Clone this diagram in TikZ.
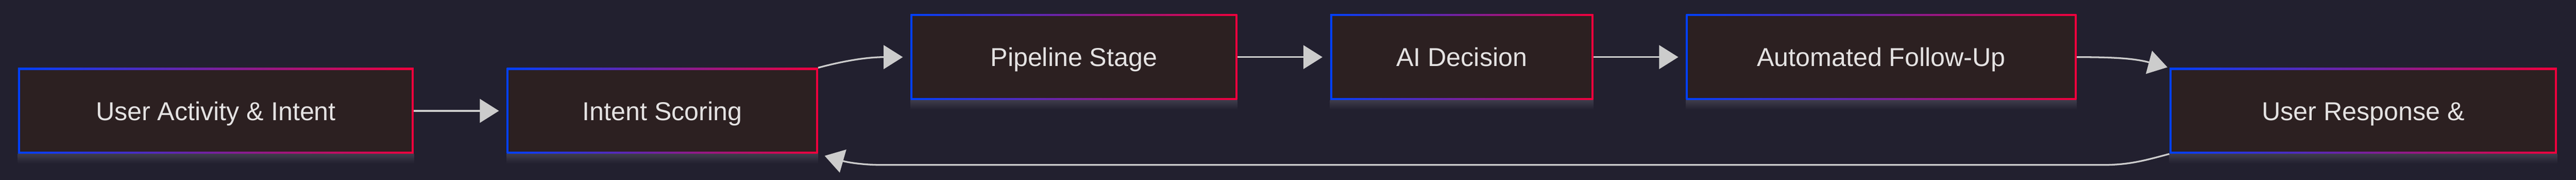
\documentclass[tikz,border=0pt]{standalone}
\usepackage{fontspec}
\setmainfont{Liberation Sans}
\usetikzlibrary{arrows.meta}

\definecolor{bgnavy}{HTML}{22202F}
\definecolor{boxfill}{HTML}{2C2021}
\definecolor{edgeblue}{HTML}{0040FF}
\definecolor{edgered}{HTML}{F0003C}
\definecolor{textgrey}{HTML}{E4E2E2}
\definecolor{arrowgrey}{HTML}{CCCCCC}
\definecolor{glowgrey}{HTML}{3E3C4B}

\begin{document}
\begin{tikzpicture}

        % Setup the style for the stages
        \tikzset{stage box/.style={rectangle,
                                   inner sep=0pt,
                                   minimum width=#1,
                                   minimum height=2.28cm,
                                   left color=edgeblue,
                                   right color=edgered,
                                   path picture={\fill[boxfill]
                                       ([shift={(0.05,0.05)}]path picture bounding box.south west) rectangle
                                       ([shift={(-0.05,-0.05)}]path picture bounding box.north east);},
                                   text=textgrey,
                                   font=\fontsize{19.6pt}{23pt}\selectfont,
                                   text height=0.5cm,
                                   text depth=0cm},
                 flow/.style={-{Triangle[length=0.51cm, width=0.63cm]},
                              line width=0.045cm,
                              color=arrowgrey,
                              shorten >=0.2cm}}

        % Background
        \fill[bgnavy] (0, 0) rectangle (68.63, 4.79);

        % Draw the stages
        \node[stage box=10.54cm] at (5.75, 1.84)   (act)    {User Activity \& Intent};
        \node[stage box=8.29cm]  at (17.645, 1.84) (score)  {Intent Scoring};
        \node[stage box=8.70cm]  at (28.61, 3.27)  (pipe)   {Pipeline Stage};
        \node[stage box=7.01cm]  at (38.945, 3.27) (decide) {AI Decision};
        \node[stage box=10.40cm] at (50.12, 3.27)  (follow) {Automated Follow-Up};
        \node[stage box=10.32cm] at (62.96, 1.84)  (resp)   {User Response \&};

        % Soft glow under the stages
        \foreach \n in {act, score, pipe, decide, follow, resp}
            \shade[top color=glowgrey, bottom color=bgnavy]
                (\n.south west) rectangle ([yshift=-0.25cm]\n.south east);

        % Turning points of the way back
        \coordinate (loopR) at (56.00, 0.40);
        \coordinate (loopL) at (23.53, 0.40);

        % Connect the stages with arrows
        \path[flow]
            (act)               edge                                       (score)
            (score.north east)  edge[out=15, in=180]                       (pipe.west)
            (pipe)              edge                                       (decide)
            (decide)            edge                                       (follow)
            (follow.east)       edge[out=0, in=165, shorten >=0.05cm]      (resp.north west)
            ;
        \draw[flow, shorten >=0.18cm]
            (resp.south west) to[out=195, in=0] (loopR) -- (loopL) to[out=180, in=-16] (score.south east);
\end{tikzpicture}
\end{document}
